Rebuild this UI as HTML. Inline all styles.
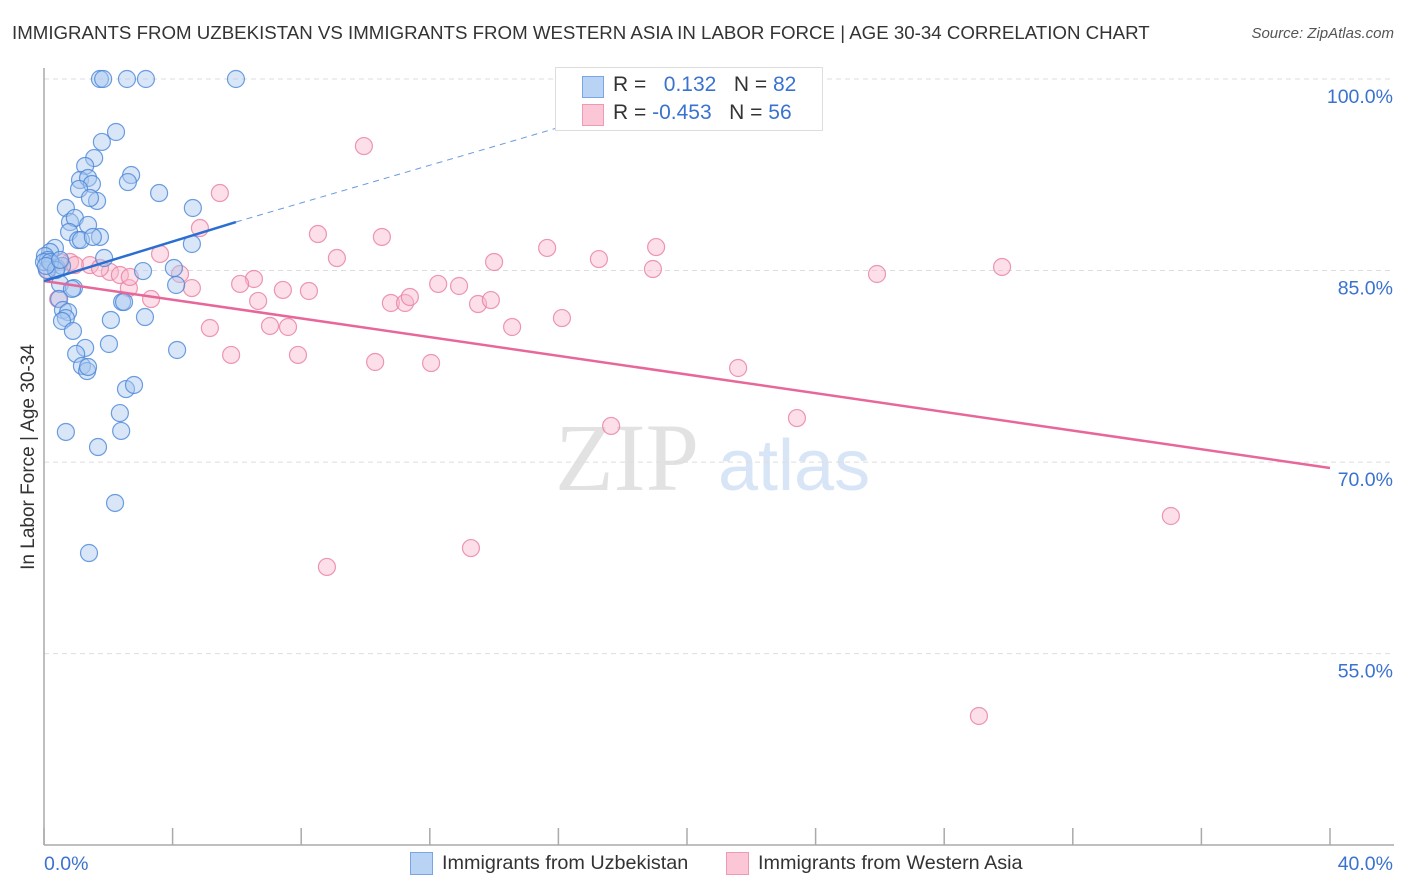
<!DOCTYPE html>
<html><head><meta charset="utf-8"><style>
body{margin:0;background:#fff;font-family:"Liberation Sans",sans-serif;}
#wrap{position:relative;width:1406px;height:892px;overflow:hidden}
.t{position:absolute;white-space:nowrap}
</style></head><body>
<div id="wrap">
<div class="t" style="left:12px;top:22px;font-size:18.7px;color:#333">IMMIGRANTS FROM UZBEKISTAN VS IMMIGRANTS FROM WESTERN ASIA IN LABOR FORCE | AGE 30-34 CORRELATION CHART</div>
<div class="t" style="right:12px;top:25px;font-size:15px;color:#555;font-style:italic">Source: ZipAtlas.com</div>
<svg id="svg" width="1406" height="892" style="position:absolute;left:0;top:0"></svg>
</div>
<script>
const xTicks=[0,40];
const yTicks=[55,70,85,100];
const blueX=[1.74,1.84,2.58,3.17,5.97,2.24,1.80,1.56,1.28,1.12,1.37,1.49,1.09,1.65,1.43,0.68,2.71,2.61,3.58,4.63,0.81,0.96,1.37,0.78,1.74,1.06,1.15,1.52,4.60,0.34,0.19,0.03,0.12,0.25,0.40,0.56,0.09,1.87,3.08,4.04,4.11,0.50,0.93,0.87,0.47,2.43,2.49,0.59,0.75,0.68,2.08,3.14,0.56,0.90,2.02,1.28,4.14,1.00,1.18,1.34,1.37,2.55,2.80,2.36,2.40,0.68,1.68,2.21,1.40,0,0.19,0.37,0.06,0.50];
const blueY=[100,100,100,100,100,95.85,95.07,93.81,93.19,92.09,92.25,91.78,91.39,90.45,90.68,89.90,92.48,91.93,91.07,89.90,88.80,89.12,88.57,88.02,87.63,87.39,87.39,87.63,87.08,86.77,86.45,86.14,85.83,85.51,85.20,85.36,85.04,85.98,84.96,85.20,83.87,83.95,83.63,83.56,82.77,82.54,82.54,81.91,81.75,81.28,81.13,81.36,81.05,80.27,79.25,78.94,78.78,78.47,77.53,77.13,77.45,75.72,76.04,73.84,72.44,72.36,71.18,66.80,62.88,85.67,85.67,85.04,85.36,85.83];
const pinkX=[9.95,5.47,4.85,8.52,10.51,3.61,15.65,19.04,9.11,14.0,17.26,18.94,25.91,29.80,1.43,0.81,2.05,4.23,6.53,6.10,7.43,8.24,2.64,4.60,3.33,6.66,10.79,11.23,11.38,12.26,12.91,13.50,13.90,5.16,7.03,7.59,14.56,16.11,5.82,7.90,10.30,12.04,21.59,23.42,17.64,35.05,13.28,8.80,29.08,0.44,0.12,0.50,1.74,2.36,0.96,2.67];
const pinkY=[94.75,91.07,88.33,87.86,87.63,86.30,86.77,86.84,85.98,85.67,85.90,85.12,84.73,85.28,85.43,85.67,84.89,84.73,84.34,83.95,83.48,83.40,83.63,83.63,82.77,82.62,82.46,82.46,82.93,83.95,83.79,82.38,82.69,80.50,80.66,80.58,80.58,81.28,78.39,78.39,77.84,77.76,77.37,73.45,72.83,65.78,63.27,61.79,50.12,82.77,85.04,85.67,85.20,84.65,85.43,84.50];
const blueTrend=[0,84.18,5.97,88.8,17.5,97.3];
const pinkTrend=[0,84.18,40,69.54];
const X=v=>44+v*32.15, Y=v=>79+(100-v)*12.77;
const NS="http://www.w3.org/2000/svg",svg=document.getElementById('svg');
function mk(tag,at){const e=document.createElementNS(NS,tag);for(const k in at)e.setAttribute(k,at[k]);svg.appendChild(e);return e;}
let w=mk('text',{x:555,y:490,'font-size':96,fill:'#e2e2e2','font-family':'Liberation Serif, serif'});w.textContent='ZIP';


w=mk('text',{x:718,y:490,'font-size':72,fill:'#d8e5f6','font-family':'Liberation Sans, sans-serif'});w.textContent='atlas';


yTicks.forEach(t=>{
 const g=mk('line',{x1:44,x2:1394,y1:Y(t),y2:Y(t),stroke:'#ddd','stroke-dasharray':'5,4'});
 
 
 const l=mk('text',{x:1393,y:Y(t)+24,'text-anchor':'end','font-size':19.5,fill:'#3a72d0'});l.textContent=t.toFixed(1)+'%';
 
 
});
let ax=mk('line',{x1:44,x2:44,y1:68,y2:845,stroke:'#aaa','stroke-width':1.5});


ax=mk('line',{x1:44,x2:1394,y1:845,y2:845,stroke:'#aaa','stroke-width':1.5});


for(let i=0;i<=10;i++){const tk=mk('line',{x1:X(i*4),x2:X(i*4),y1:828,y2:845,stroke:'#aaa','stroke-width':1.5});
 
 }
xTicks.forEach((t,i)=>{const l=mk('text',{x:i?1393:44,y:870,'text-anchor':i?'end':'start','font-size':19.5,fill:'#3a72d0'});l.textContent=t.toFixed(1)+'%';
 
 });
let yt=mk('text',{x:34,y:457,'text-anchor':'middle','font-size':19,fill:'#333',transform:'rotate(-90 34 457)'});yt.textContent='In Labor Force | Age 30-34';


function dots(xs,ys,fill,stroke,name){xs.forEach((x,i)=>{const c=mk('circle',{cx:X(x),cy:Y(ys[i]),r:8.5,fill:fill,'fill-opacity':0.45,stroke:stroke,'stroke-width':1.2,'stroke-opacity':0.8});
 
 });}
dots(pinkX,pinkY,'#f9b9cc','#e87ea0','point-western-asia');
dots(blueX,blueY,'#a9c8f0','#4a86d8','point-uzbekistan');
let tl=mk('line',{x1:X(pinkTrend[0]),y1:Y(pinkTrend[1]),x2:X(pinkTrend[2]),y2:Y(pinkTrend[3]),stroke:'#e8679a','stroke-width':2.5});


tl=mk('line',{x1:X(blueTrend[0]),y1:Y(blueTrend[1]),x2:X(blueTrend[2]),y2:Y(blueTrend[3]),stroke:'#2a6fd0','stroke-width':2.5});


tl=mk('line',{x1:X(blueTrend[2]),y1:Y(blueTrend[3]),x2:X(blueTrend[4]),y2:Y(blueTrend[5]),stroke:'#6a9ae0','stroke-width':1,'stroke-dasharray':'6,5'});


</script>
<div class="t" style="left:555px;top:67px;width:266px;height:62px;background:#fff;border:1px solid #ddd;font-size:21px;color:#333">
 <div class="t" style="left:26px;top:8px;width:20px;height:20px;background:#b9d3f5;border:1px solid #7aa5e3"></div>
 <div class="t" style="left:57px;top:5px">R = &nbsp;&nbsp;<span style="color:#3a72d0">0.132</span>&nbsp;&nbsp;&nbsp;N = <span style="color:#3a72d0">82</span></div>
 <div class="t" style="left:26px;top:36px;width:20px;height:20px;background:#fbc6d6;border:1px solid #ee9ab5"></div>
 <div class="t" style="left:57px;top:33px">R = <span style="color:#3a72d0">-0.453</span>&nbsp;&nbsp;&nbsp;N = <span style="color:#3a72d0">56</span></div>
</div>
<div class="t" style="left:410px;top:852px;width:21px;height:21px;background:#b9d3f5;border:1px solid #7aa5e3"></div>
<div class="t" style="left:442px;top:852px;font-size:19.8px;color:#333">Immigrants from Uzbekistan</div>
<div class="t" style="left:726px;top:852px;width:21px;height:21px;background:#fbc6d6;border:1px solid #ee9ab5"></div>
<div class="t" style="left:758px;top:852px;font-size:19.8px;color:#333">Immigrants from Western Asia</div>
</body></html>
